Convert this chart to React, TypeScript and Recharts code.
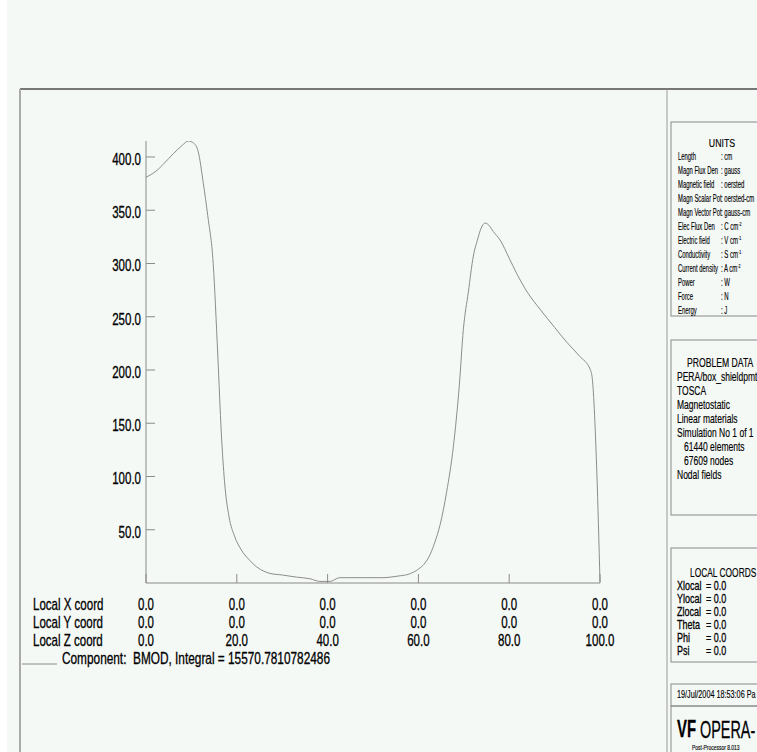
import { Line, LineChart, XAxis, YAxis } from "recharts"

// z position along the line (cm) and field magnitude BMOD (gauss)
const zCoord = [
  0, 2, 4, 6, 8, 9.3, 10.5, 11.5, 12.6, 13.6, 14.8, 15.8, 16.6, 17.3, 18.3,
  19.5, 21, 22.9, 24.4, 26, 27.3, 30, 33.2, 36.1, 38.3, 40.5, 42.7, 45, 48, 52,
  55.5, 58, 60, 61.5, 62.6, 63.6, 64.8, 66.2, 67.7, 69, 69.9, 71, 72.1, 73,
  73.8, 74.7, 75.5, 76.5, 78, 80, 81.6, 84, 86.8, 90, 92.7, 95.5, 97.9, 98.3,
  99.3, 100,
]
const bmod = [
  381, 386, 394, 403, 411, 415, 413, 405, 376, 345, 300, 215, 140, 95, 62,
  44, 31, 21, 15, 11, 9, 7.5, 5.5, 4, 1.5, 1.5, 5, 5, 5, 5,
  6.5, 8.5, 13, 19, 27, 38, 55, 85, 128, 185, 238, 273, 307, 322,
  333, 338, 336, 330, 322, 305, 291, 273, 257, 240, 226, 213, 200, 192,
  104, 1,
]

const xTicks = [0, 20, 40, 60, 80, 100]
const localX = [0, 0, 0, 0, 0, 0]
const localY = [0, 0, 0, 0, 0, 0]
const localZ = [0, 20, 40, 60, 80, 100]
const rowLabels = ["Local X coord", "Local Y coord", "Local Z coord"]
const yTicks = [50, 100, 150, 200, 250, 300, 350, 400]

const seriesName = "BMOD"
const integral = "15570.7810782486"

const unitRows: [string, string, string?][] = [
  ["Length", ": cm"],
  ["Magn Flux Den", ": gauss"],
  ["Magnetic field", ": oersted"],
  ["Magn Scalar Pot", ": oersted-cm"],
  ["Magn Vector Pot", ": gauss-cm"],
  ["Elec Flux Den", ": C cm", "-2"],
  ["Electric field", ": V cm", "-1"],
  ["Conductivity", ": S cm", "-1"],
  ["Current density", ": A cm", "-2"],
  ["Power", ": W"],
  ["Force", ": N"],
  ["Energy", ": J"],
]

const problemRows = [
  "PERA/box_shieldpmt",
  "TOSCA",
  "Magnetostatic",
  "Linear materials",
  "Simulation No 1 of 1",
  "   61440 elements",
  "   67609 nodes",
  "Nodal fields",
]

const coordRows = [
  ["Xlocal", "= 0.0"],
  ["Ylocal", "= 0.0"],
  ["Zlocal", "= 0.0"],
  ["Theta", "= 0.0"],
  ["Phi", "= 0.0"],
  ["Psi", "= 0.0"],
]

const data = zCoord.map((z, i) => ({ z, bmod: bmod[i] }))

const FONT = "'Liberation Sans', Arial, sans-serif"
const INK = "#000"
const BG = "#f5f9f6"

// narrow text, the plot uses a condensed Helvetica
function T({
  x,
  y,
  size,
  sx = 0.72,
  anchor = "start",
  weight = "normal",
  children,
}: {
  x: number
  y: number
  size: number
  sx?: number
  anchor?: "start" | "middle" | "end"
  weight?: string
  children: React.ReactNode
}) {
  return (
    <text
      transform={`translate(${x} ${y}) scale(${sx} 1)`}
      fontSize={size}
      fontFamily={FONT}
      fontWeight={weight}
      textAnchor={anchor}
      fill={INK}
      stroke={INK}
      strokeWidth={size > 12 ? 0.3 : 0.15}
      style={{ whiteSpace: "pre" }}
    >
      {children}
    </text>
  )
}

function XTick(props: any) {
  const { x, y, payload } = props
  const i = xTicks.indexOf(payload.value)
  return (
    <g>
      <line x1={x} y1={y} x2={x} y2={y - 9} stroke="#8a8a8a" />
      <T x={x} y={y + 27} size={16} anchor="middle">
        {localX[i].toFixed(1)}
      </T>
      <T x={x} y={y + 45} size={16} anchor="middle">
        {localY[i].toFixed(1)}
      </T>
      <T x={x} y={y + 63} size={16} anchor="middle">
        {localZ[i].toFixed(1)}
      </T>
    </g>
  )
}

function YTick(props: any) {
  const { x, y, payload } = props
  return (
    <g>
      <line x1={x} y1={y} x2={x + 9} y2={y} stroke="#8a8a8a" />
      <T x={x - 5} y={y + 8} size={16} anchor="end">
        {payload.value.toFixed(1)}
      </T>
    </g>
  )
}

function Panels() {
  const box = { fill: "none", stroke: "#8a8a8a", strokeWidth: 1 }
  return (
    <svg
      width={757}
      height={752}
      style={{ position: "absolute", left: 0, top: 0, pointerEvents: "none" }}
    >
      <line x1={20} y1={89} x2={757} y2={89} stroke="#777" strokeWidth={2} />
      <line x1={20} y1={89} x2={20} y2={752} stroke="#aaa" strokeWidth={2} />
      <line x1={667} y1={89} x2={667} y2={752} stroke="#999" />

      {/* table rows under the x axis */}
      {rowLabels.map((label, i) => (
        <T key={label} x={33} y={610 + i * 18} size={16}>
          {label}
        </T>
      ))}
      <line x1={22} y1={664} x2={57} y2={664} stroke="#8c8c8c" />
      <T x={62} y={664} size={16} sx={0.74}>
        {`Component:  ${seriesName}, Integral = ${integral}`}
      </T>

      {/* units */}
      <rect x={671} y={122} width={100} height={194} {...box} />
      <T x={722} y={147} size={11} sx={0.8} anchor="middle">
        UNITS
      </T>
      {unitRows.map(([name, unit, sup], i) => (
        <g key={name}>
          <T x={678} y={160 + i * 14} size={10} sx={0.59}>
            {name}
          </T>
          <text
            transform={`translate(721 ${160 + i * 14}) scale(0.6 1)`}
            fontSize={10}
            fontFamily={FONT}
            fill={INK}
            stroke={INK}
            strokeWidth={0.15}
          >
            {unit}
            {sup && (
              <tspan fontSize={6} dy={-4}>
                {sup}
              </tspan>
            )}
          </text>
        </g>
      ))}

      {/* problem data */}
      <rect x={671} y={340} width={100} height={175} {...box} />
      <T x={687} y={367} size={12} sx={0.72}>
        PROBLEM DATA
      </T>
      {problemRows.map((row, i) => (
        <T key={row} x={677} y={381 + i * 14} size={12} sx={0.71}>
          {row}
        </T>
      ))}

      {/* local coords */}
      <rect x={671} y={548} width={100} height={114} {...box} />
      <T x={690} y={577} size={12} sx={0.7}>
        LOCAL COORDS
      </T>
      {coordRows.map(([name, val], i) => (
        <g key={name}>
          <T x={677} y={590 + i * 13} size={12.5} sx={0.72}>
            {name}
          </T>
          <T x={706} y={590 + i * 13} size={12.5} sx={0.72}>
            {val}
          </T>
        </g>
      ))}

      {/* date and logo */}
      <rect x={671} y={684} width={100} height={22} {...box} />
      <T x={677} y={698} size={11} sx={0.66}>
        19/Jul/2004 18:53:06 Pa
      </T>
      <rect x={671} y={706} width={100} height={60} {...box} />
      <T x={677} y={737} size={24} sx={0.62} weight="bold">
        VF
      </T>
      <T x={700} y={738} size={24} sx={0.6}>
        OPERA-
      </T>
      <T x={692} y={750} size={8} sx={0.62}>
        Post-Processor 8.013
      </T>
    </svg>
  )
}

export default function App() {
  return (
    <div
      style={{
        position: "absolute",
        left: 0,
        top: 0,
        width: 757,
        height: 752,
        background: BG,
        overflow: "hidden",
      }}
    >
      <div
        style={{
          position: "absolute",
          left: 0,
          top: 0,
          width: 7,
          height: 752,
          background: "#fff",
        }}
      />
      <div style={{ position: "absolute", left: 0, top: 0 }}>
        <LineChart
          width={757}
          height={752}
          data={data}
          margin={{ top: 141, right: 157, bottom: 139, left: 86 }}
        >
          <XAxis
            dataKey="z"
            type="number"
            domain={[0, 100]}
            ticks={xTicks}
            interval={0}
            height={30}
            axisLine={{ stroke: "#8a8a8a" }}
            tickLine={false}
            tickSize={0}
            tickMargin={0}
            tick={XTick}
          />
          <YAxis
            type="number"
            domain={[0, 415]}
            ticks={yTicks}
            interval={0}
            width={60}
            allowDataOverflow
            axisLine={{ stroke: "#8a8a8a" }}
            tickLine={false}
            tickSize={0}
            tickMargin={0}
            tick={YTick}
          />
          <Line
            dataKey="bmod"
            name={seriesName}
            type="monotone"
            stroke="#8c8c8c"
            strokeWidth={1}
            dot={false}
            isAnimationActive={false}
          />
        </LineChart>
      </div>
      <Panels />
    </div>
  )
}
